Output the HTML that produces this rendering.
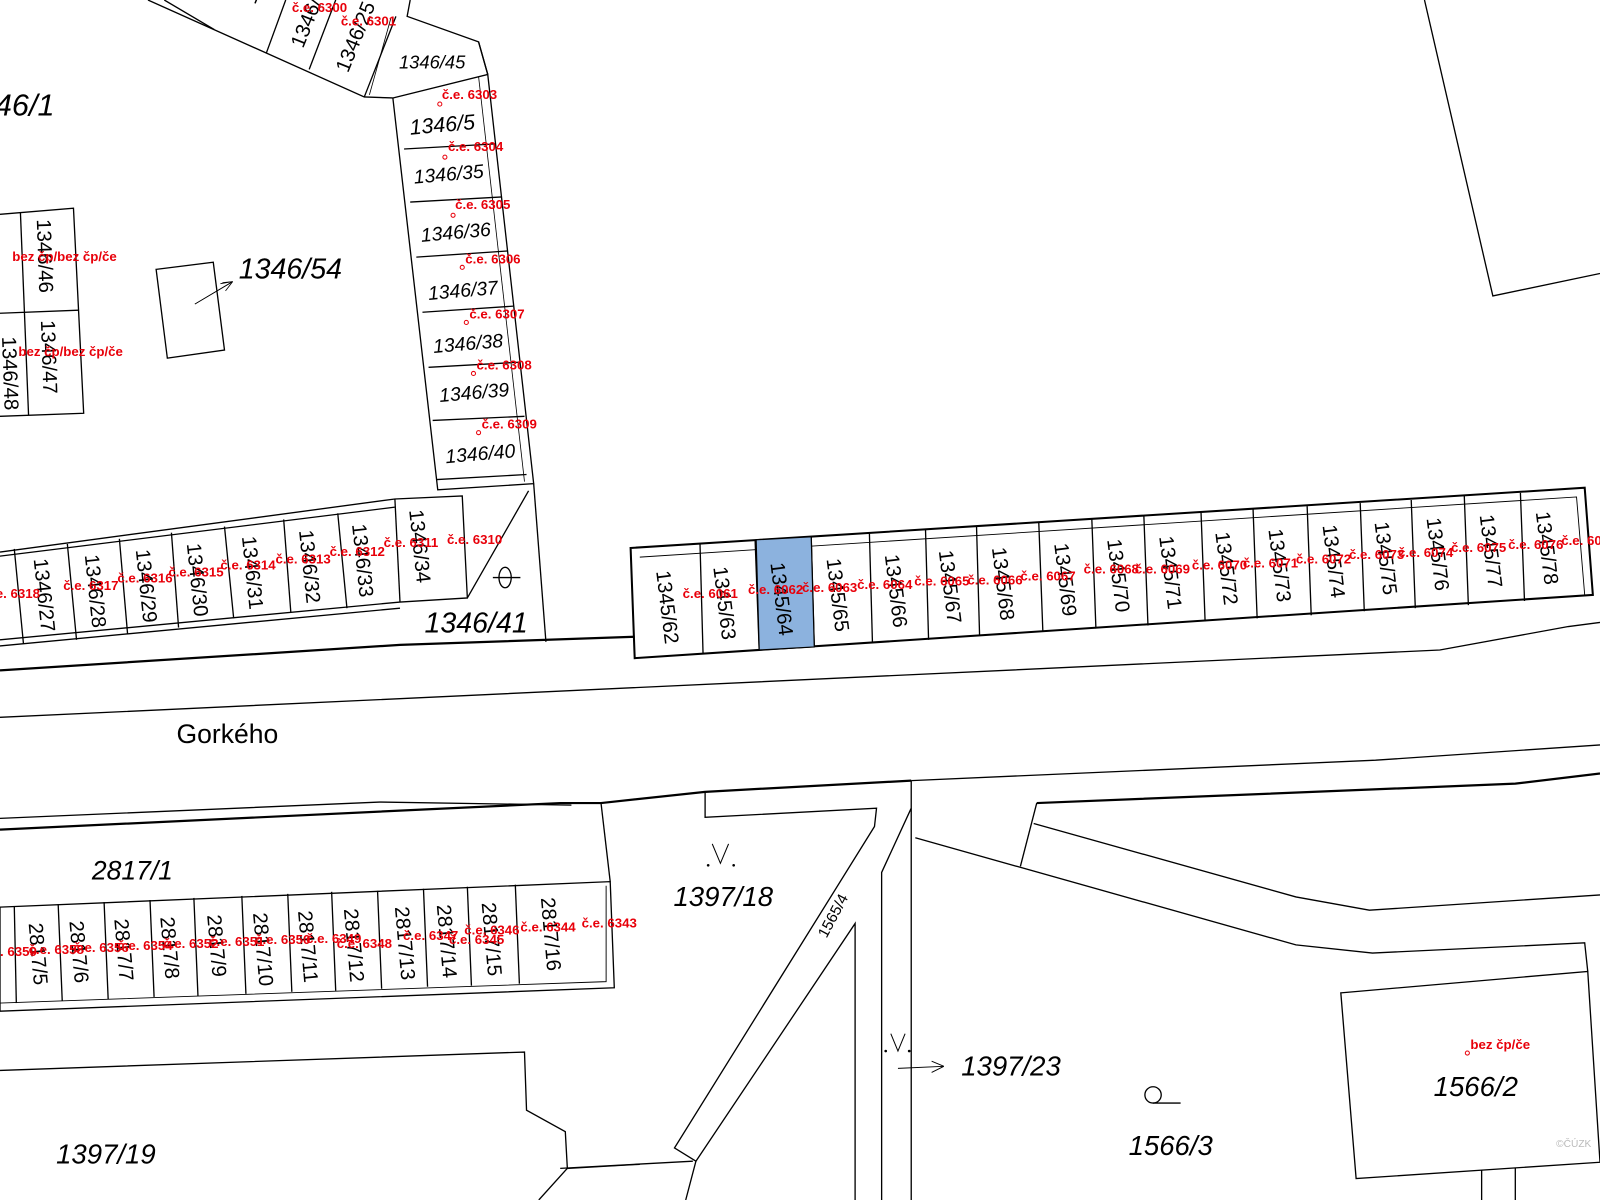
<!DOCTYPE html>
<html><head><meta charset="utf-8"><style>
html,body{margin:0;padding:0;background:#fff;}
svg{display:block;}
text{font-family:"Liberation Sans",sans-serif;}
.r{fill:#e8000a;font-weight:bold;font-size:13px;}
.b{fill:#000;}
</style></head><body>
<svg width="1600" height="1200" viewBox="0 0 1568 1176" xmlns="http://www.w3.org/2000/svg">
<rect width="1568" height="1176" fill="#fff"/>
<g fill="none" stroke="#000" stroke-width="1.3">
<!-- top right -->
<polyline points="1396,0 1463,290 1568,268"/>
<!-- top row -->
<polyline points="145,0 357,95 385,96"/>
<polyline points="402,0 399,16 469,41 478,73"/>
<line x1="161" y1="0" x2="210" y2="29"/><line x1="280" y1="0" x2="261" y2="52"/>
<line x1="329" y1="0" x2="303" y2="68"/><line x1="388" y1="16" x2="357" y2="95"/>
<line x1="383" y1="18" x2="362" y2="93" stroke-width="0.8"/>
<line x1="469" y1="41" x2="478" y2="73"/>
<!-- column -->
<polyline points="385,96 478,73 523,474 429,480 385,96"/>
<line x1="469" y1="75" x2="514" y2="472" stroke-width="0.8"/>
<line x1="396" y1="146" x2="486" y2="141"/><line x1="402" y1="198" x2="492" y2="193"/>
<line x1="408" y1="252" x2="497" y2="246"/><line x1="414" y1="306" x2="503" y2="300"/>
<line x1="420" y1="360" x2="508" y2="355"/><line x1="424" y1="412" x2="514" y2="408"/>
<line x1="428" y1="470" x2="516" y2="465"/>
<!-- triangle 1346/41 -->
<polyline points="518,481 458,586"/>
<polyline points="523,474 535,629"/>
<!-- 1346 bottom row -->
<polyline points="0,541 387,489 453,486 458,586 392,590 0,627"/>
<polyline points="0,545 387,497"/>
<line x1="392" y1="590" x2="387" y2="489"/>
<line x1="0" y1="633" x2="392" y2="596"/>
<line x1="14" y1="538" x2="23" y2="631"/><line x1="66" y1="533" x2="75" y2="627"/>
<line x1="117" y1="528" x2="125" y2="621"/><line x1="168" y1="522" x2="175" y2="615"/>
<line x1="220" y1="516" x2="229" y2="606"/><line x1="278" y1="509" x2="285" y2="600"/>
<line x1="331" y1="503" x2="340" y2="596"/>
<!-- 1346/46-47 -->
<polyline points="0,210 72,204 82,405 0,408"/>
<line x1="20" y1="208" x2="28" y2="407"/><line x1="0" y1="307" x2="77" y2="304"/>
<!-- building -->
<polygon points="153,264 209,257 220,343 164,351"/>
<polyline points="191,298 228,276 218,277 M228,276 223,285" stroke-width="0.8"/>
<path d="M191,298 L228,276 M228,276 L216,278 M228,276 L221,285" stroke-width="0.8"/>
<!-- street -->
<polyline points="0,657 392,632 622,624" stroke-width="2.2"/>
<polyline points="0,703 1411,637 1537,614 1568,610"/>
<polyline points="0,802 372,786 560,789"/>
<polyline points="0,813 549,787 589,787 691,776 893,765" stroke-width="2.2"/>
<polyline points="893,765 1348,745 1568,730"/>
<polyline points="1016,787 1485,768 1568,758" stroke-width="2.2"/>
<!-- main row -->
<polygon points="618,537 1553,478 1561,583 622,645" stroke-width="2"/>
<polyline points="627,546 1545,487 1553,583" stroke-width="0.9"/>
<g>
<line x1="686" y1="533" x2="689" y2="641"/><line x1="740" y1="529" x2="744" y2="637"/>
<line x1="795" y1="526" x2="798" y2="634"/><line x1="852" y1="522" x2="855" y2="630"/>
<line x1="907" y1="519" x2="910" y2="627"/><line x1="957" y1="516" x2="960" y2="623"/>
<line x1="1018" y1="512" x2="1022" y2="619"/><line x1="1070" y1="509" x2="1074" y2="616"/>
<line x1="1121" y1="506" x2="1125" y2="613"/><line x1="1177" y1="502" x2="1181" y2="609"/>
<line x1="1228" y1="499" x2="1232" y2="606"/><line x1="1281" y1="496" x2="1285" y2="603"/>
<line x1="1333" y1="493" x2="1337" y2="599"/><line x1="1383" y1="490" x2="1387" y2="596"/>
<line x1="1435" y1="486" x2="1439" y2="593"/><line x1="1490" y1="483" x2="1494" y2="589"/>
</g>
<!-- 2817 block -->
<line x1="589" y1="787" x2="598" y2="864"/>
<polygon points="0,889 598,864 602,968 0,991"/>
<polyline points="0,983 594,962 594,868" stroke-width="0.9"/>
<g>
<line x1="14" y1="888" x2="16" y2="983"/><line x1="57" y1="886" x2="61" y2="981"/>
<line x1="102" y1="884" x2="106" y2="979"/><line x1="147" y1="882" x2="151" y2="977"/>
<line x1="190" y1="880" x2="194" y2="976"/><line x1="237" y1="878" x2="241" y2="974"/>
<line x1="282" y1="876" x2="286" y2="972"/><line x1="325" y1="874" x2="329" y2="971"/>
<line x1="370" y1="873" x2="374" y2="969"/><line x1="415" y1="871" x2="419" y2="967"/>
<line x1="458" y1="869" x2="462" y2="966"/><line x1="505" y1="867" x2="509" y2="964"/>
</g>
<!-- 1397/19 -->
<polyline points="0,1049 514,1031 516,1088 554,1109 556,1145 627,1141"/>
<line x1="556" y1="1145" x2="528" y2="1176"/>
<!-- 1397/18 & 1565/4 -->
<polyline points="691,776 691,801 859,792 857,810 661,1125 682,1138 672,1176"/>
<polyline points="682,1138 838,905 838,1176"/>
<polyline points="893,792 864,855 864,1176"/>
<line x1="893" y1="765" x2="893" y2="1176"/>
<polyline points="549,1145 679,1138"/>
<!-- right parcels -->
<polyline points="1016,787 1000,849"/>
<polyline points="897,821 1270,926 1345,934 1553,924 1556,952"/>
<polyline points="1013,807 1270,879 1342,892 1568,877"/>
<polygon points="1314,973 1556,952 1568,1139 1329,1155"/>
<line x1="1452" y1="1147" x2="1452" y2="1176"/><line x1="1485" y1="1145" x2="1485" y2="1176"/>
</g>
<!-- highlighted -->
<polygon points="741,529 795,526 798,634 744,637" fill="#8cb2de" stroke="#000" stroke-width="1.2"/>
<!-- symbols -->
<g fill="none" stroke="#000" stroke-width="1.3">
<ellipse cx="495" cy="566" rx="6" ry="10"/><line x1="483" y1="566" x2="510" y2="566"/>
<circle cx="1130" cy="1073" r="8"/><line x1="1130" y1="1081" x2="1157" y2="1081"/>
<path d="M880,1047 L925,1045 M925,1045 L913,1040 M925,1045 L913,1051" stroke-width="0.9"/>
<path d="M698,827 L706,846 L714,827 M873,1013 L880,1030 L887,1013" stroke-width="1"/>
</g>
<g fill="#000"><circle cx="694" cy="848" r="1.3"/><circle cx="719" cy="848" r="1.3"/><circle cx="868" cy="1030" r="1.3"/><circle cx="891" cy="1030" r="1.3"/></g>
<!-- black labels -->
<g class="b" font-style="italic">
<text x="-5" y="113" font-size="30">46/1</text>
<text x="234" y="273" font-size="28">1346/54</text>
<text x="416" y="620" font-size="28">1346/41</text>
<text x="90" y="862" font-size="26">2817/1</text>
<text x="660" y="888" font-size="27">1397/18</text>
<text x="942" y="1054" font-size="27">1397/23</text>
<text x="1106" y="1132" font-size="27">1566/3</text>
<text x="1405" y="1074" font-size="27">1566/2</text>
<text x="55" y="1140" font-size="27">1397/19</text>
<text x="391" y="67" font-size="18">1346/45</text>
<text x="402" y="132" font-size="21" transform="rotate(-5 402 132)">1346/5</text>
<text x="406" y="180" font-size="19" transform="rotate(-5 406 180)">1346/35</text>
<text x="413" y="237" font-size="19" transform="rotate(-5 413 237)">1346/36</text>
<text x="420" y="294" font-size="19" transform="rotate(-5 420 294)">1346/37</text>
<text x="425" y="346" font-size="19" transform="rotate(-5 425 346)">1346/38</text>
<text x="431" y="394" font-size="19" transform="rotate(-5 431 394)">1346/39</text>
<text x="437" y="454" font-size="19" transform="rotate(-5 437 454)">1346/40</text>
</g>
<text x="173" y="728" font-size="26" class="b">Gorkého</text>
<text x="810" y="920" font-size="15" class="b" transform="rotate(-62 810 920)">1565/4</text>
<g class="b" font-size="20">
<text transform="translate(643,560) rotate(83)">1345/62</text>
<text transform="translate(699,556) rotate(83)">1345/63</text>
<text transform="translate(755,552) rotate(83)">1345/64</text>
<text transform="translate(810,548) rotate(83)">1345/65</text>
<text transform="translate(867,544) rotate(83)">1345/66</text>
<text transform="translate(920,540) rotate(83)">1345/67</text>
<text transform="translate(972,537) rotate(83)">1345/68</text>
<text transform="translate(1033,533) rotate(83)">1345/69</text>
<text transform="translate(1085,529) rotate(83)">1345/70</text>
<text transform="translate(1136,526) rotate(83)">1345/71</text>
<text transform="translate(1191,522) rotate(83)">1345/72</text>
<text transform="translate(1243,519) rotate(83)">1345/73</text>
<text transform="translate(1296,515) rotate(83)">1345/74</text>
<text transform="translate(1347,512) rotate(83)">1345/75</text>
<text transform="translate(1398,508) rotate(83)">1345/76</text>
<text transform="translate(1450,505) rotate(83)">1345/77</text>
<text transform="translate(1505,502) rotate(83)">1345/78</text>
<text transform="translate(33,548) rotate(84)">1346/27</text>
<text transform="translate(83,544) rotate(84)">1346/28</text>
<text transform="translate(133,539) rotate(84)">1346/29</text>
<text transform="translate(183,533) rotate(84)">1346/30</text>
<text transform="translate(237,526) rotate(84)">1346/31</text>
<text transform="translate(293,520) rotate(84)">1346/32</text>
<text transform="translate(345,514) rotate(84)">1346/33</text>
<text transform="translate(401,500) rotate(84)">1346/34</text>
<text transform="translate(36,215) rotate(88)">1346/46</text>
<text transform="translate(40,314) rotate(88)">1346/47</text>
<text transform="translate(2,330) rotate(88)">1346/48</text>
<text transform="translate(250,5) rotate(-68)">1346/45</text>
<text transform="translate(297,48) rotate(-68)">1346/44</text>
<text transform="translate(341,72) rotate(-68)">1346/25</text>
<text transform="translate(28,905) rotate(85)">2817/5</text>
<text transform="translate(68,903) rotate(85)">2817/6</text>
<text transform="translate(112,901) rotate(85)">2817/7</text>
<text transform="translate(157,899) rotate(85)">2817/8</text>
<text transform="translate(203,897) rotate(85)">2817/9</text>
<text transform="translate(248,895) rotate(85)">2817/10</text>
<text transform="translate(292,893) rotate(85)">2817/11</text>
<text transform="translate(337,891) rotate(85)">2817/12</text>
<text transform="translate(387,889) rotate(85)">2817/13</text>
<text transform="translate(428,887) rotate(85)">2817/14</text>
<text transform="translate(472,885) rotate(85)">2817/15</text>
<text transform="translate(530,880) rotate(85)">2817/16</text>
</g>
<!-- red labels -->
<g class="r">
<text x="286" y="12">č.e. 6300</text><text x="334" y="25">č.e. 6301</text>
<text x="433" y="97">č.e. 6303</text><text x="439" y="148">č.e. 6304</text>
<text x="446" y="205">č.e. 6305</text><text x="456" y="258">č.e. 6306</text>
<text x="460" y="312">č.e. 6307</text><text x="467" y="362">č.e. 6308</text>
<text x="472" y="420">č.e. 6309</text>
<text x="12" y="256">bez čp/bez čp/če</text><text x="18" y="349">bez čp/bez čp/če</text>
<text x="438" y="533">č.e. 6310</text><text x="376" y="536">č.e. 6311</text>
<text x="323" y="545">č.e. 6312</text><text x="270" y="552">č.e. 6313</text>
<text x="216" y="558">č.e. 6314</text><text x="165" y="565">č.e. 6315</text>
<text x="115" y="571">č.e. 6316</text><text x="62" y="578">č.e. 6317</text>
<text x="-15" y="586">č.e. 6318</text>
<text x="669" y="586">č.e. 6061</text><text x="733" y="582">č.e. 6062</text>
<text x="786" y="580">č.e. 6063</text><text x="840" y="577">č.e. 6064</text>
<text x="896" y="574">č.e. 6065</text><text x="948" y="573">č.e. 6066</text>
<text x="1000" y="569">č.e. 6067</text><text x="1062" y="562">č.e. 6068</text>
<text x="1112" y="562">č.e. 6069</text><text x="1168" y="558">č.e. 6070</text>
<text x="1218" y="556">č.e. 6071</text><text x="1270" y="552">č.e. 6072</text>
<text x="1322" y="548">č.e. 6073</text><text x="1370" y="546">č.e. 6074</text>
<text x="1422" y="541">č.e. 6075</text><text x="1478" y="538">č.e. 6076</text>
<text x="1530" y="534">č.e. 6077</text>
<text x="570" y="909">č.e. 6343</text><text x="510" y="913">č.e. 6344</text>
<text x="455" y="916">č.e. 6346</text><text x="440" y="925">č.e. 6345</text>
<text x="395" y="921">č.e. 6347</text><text x="330" y="929">č.e. 6348</text>
<text x="300" y="924">č.e. 6349</text><text x="250" y="925">č.e. 6350</text>
<text x="205" y="927">č.e. 6351</text><text x="160" y="929">č.e. 6352</text>
<text x="115" y="931">č.e. 6354</text><text x="72" y="933">č.e. 6356</text>
<text x="28" y="935">č.e. 6358</text><text x="-18" y="937">č.e. 6359</text>
<text x="1441" y="1028">bez čp/če</text>
</g>
<g fill="none" stroke="#e8000a" stroke-width="1">
<circle cx="431" cy="102" r="2"/><circle cx="436" cy="154" r="2"/><circle cx="444" cy="211" r="2"/>
<circle cx="453" cy="262" r="2"/><circle cx="457" cy="316" r="2"/><circle cx="464" cy="366" r="2"/>
<circle cx="469" cy="424" r="2"/><circle cx="1438" cy="1032" r="2"/>
</g>
<text x="1525" y="1124" font-size="10" fill="#bbb">©ČÚZK</text>
</svg>
</body></html>
